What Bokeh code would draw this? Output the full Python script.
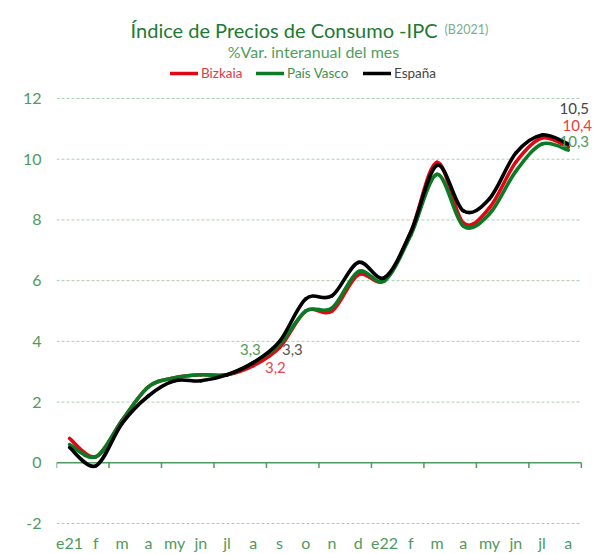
import numpy as np
from bokeh.plotting import figure
from bokeh.models import Range1d, FixedTicker, Label, Legend, LegendItem
from bokeh.embed import file_html
from bokeh.resources import INLINE
from bokeh.core.properties import value

# ---------------- data ----------------
months = ["e21", "f", "m", "a", "my", "jn", "jl", "a", "s", "o", "n", "d",
          "e22", "f", "m", "a", "my", "jn", "jl", "a"]
bizkaia = [0.8, 0.2, 1.4, 2.5, 2.8, 2.9, 2.9, 3.2, 3.8, 5.0, 5.0, 6.2,
           6.0, 7.6, 9.9, 7.9, 8.4, 9.9, 10.7, 10.4]
pais_vasco = [0.6, 0.2, 1.4, 2.5, 2.8, 2.9, 2.9, 3.3, 3.9, 5.0, 5.1, 6.3,
              6.0, 7.5, 9.5, 7.8, 8.2, 9.6, 10.5, 10.3]
espana = [0.5, -0.1, 1.3, 2.2, 2.7, 2.7, 2.9, 3.3, 4.0, 5.4, 5.5, 6.6,
          6.1, 7.6, 9.8, 8.3, 8.7, 10.2, 10.8, 10.5]
y_ticks = [-2, 0, 2, 4, 6, 8, 10, 12]
series_names = ["Bizkaia", "País Vasco", "España"]

# ---------------- style ----------------
FONT = "Lato"
RED = "#e30613"
GREEN = "#0b7a24"
BLACK = "#000000"
AXIS_GREEN = "#4f9a5e"
GRID = "#a9cfb0"

x_idx = list(range(len(months)))

p = figure(width=595, height=554, output_backend="svg", toolbar_location=None,
           x_range=Range1d(-0.5, 20.0), y_range=Range1d(-2.296, 15.228),
           min_border_left=56, min_border_right=1, min_border_top=0,
           min_border_bottom=19)
p.outline_line_color = None
p.xgrid.visible = False
p.ygrid.visible = False
p.background_fill_color = "white"
p.border_fill_color = "white"

# axes
p.yaxis.ticker = FixedTicker(ticks=y_ticks)
p.yaxis.major_label_overrides = {t: str(t) for t in y_ticks}
p.yaxis.axis_line_color = None
p.yaxis.major_tick_line_color = None
p.yaxis.minor_tick_line_color = None
p.yaxis.major_tick_out = 0
p.yaxis.major_tick_in = 0
p.yaxis.minor_tick_out = 0
p.yaxis.major_label_text_color = AXIS_GREEN
p.yaxis.major_label_text_font = FONT
p.yaxis.major_label_text_font_size = "16px"
p.yaxis.major_label_standoff = 15

p.xaxis.ticker = FixedTicker(ticks=x_idx)
p.xaxis.major_label_overrides = {i: m for i, m in enumerate(months)}
p.xaxis.axis_line_color = None
p.xaxis.major_tick_line_color = None
p.xaxis.minor_tick_line_color = None
p.xaxis.major_tick_out = 0
p.xaxis.major_tick_in = 0
p.xaxis.minor_tick_out = 0
p.xaxis.major_label_text_color = AXIS_GREEN
p.xaxis.major_label_text_font = FONT
p.xaxis.major_label_text_font_size = "16px"
p.xaxis.major_label_standoff = 0

# gridlines (dashed) except zero line
x_lo, x_hi = -0.5, len(months) - 0.5
grid_y = [t for t in y_ticks if t != 0]
p.segment(x0=[x_lo] * len(grid_y), y0=grid_y, x1=[x_hi] * len(grid_y), y1=grid_y,
          line_color=GRID, line_width=1, line_dash="3 2")

# zero axis line with tick marks every two categories
p.segment(x0=[x_lo], y0=[0], x1=[x_hi], y1=[0], line_color=AXIS_GREEN, line_width=1.5)
tick_x = [x_lo + 2 * k for k in range(len(months) // 2 + 1)]
p.segment(x0=tick_x, y0=[0] * len(tick_x), x1=tick_x, y1=[-0.17] * len(tick_x),
          line_color=AXIS_GREEN, line_width=1.5)


def smooth_bezier(xs, ys):
    xs = np.asarray(xs, float)
    ys = np.asarray(ys, float)
    n = len(xs)
    x0, y0, x1, y1, cx0, cy0, cx1, cy1 = ([] for _ in range(8))
    for i in range(n - 1):
        pm = max(i - 1, 0)
        pp = min(i + 2, n - 1)
        x0.append(xs[i]); y0.append(ys[i])
        x1.append(xs[i + 1]); y1.append(ys[i + 1])
        cx0.append(xs[i] + (xs[i + 1] - xs[pm]) / 6.0)
        cy0.append(ys[i] + (ys[i + 1] - ys[pm]) / 6.0)
        cx1.append(xs[i + 1] - (xs[pp] - xs[i]) / 6.0)
        cy1.append(ys[i + 1] - (ys[pp] - ys[i]) / 6.0)
    return dict(x0=x0, y0=y0, x1=x1, y1=y1, cx0=cx0, cy0=cy0, cx1=cx1, cy1=cy1)


renderers = []
for vals, col in [(bizkaia, RED), (pais_vasco, GREEN), (espana, BLACK)]:
    r = p.bezier(source=smooth_bezier(x_idx, vals), x0="x0", y0="y0", x1="x1", y1="y1",
                 cx0="cx0", cy0="cy0", cx1="cx1", cy1="cy1",
                 line_color=col, line_width=3.6, line_cap="round")
    renderers.append(r)


def fmt(v):
    return f"{v:.1f}".replace(".", ",")


# data labels
aug21 = 7
last = len(months) - 1
labels = [
    (aug21, pais_vasco[aug21], "#4f9a5e", -3, -13),
    (aug21, espana[aug21], "#555555", 39, -13),
    (aug21, bizkaia[aug21], "#e8464e", 22, 2),
    (last, espana[last], "#444444", 6, -36),
    (last, bizkaia[last], "#ee3a3a", 9, -22),
    (last, pais_vasco[last], "#4f9a5e", 6, -9),
]
for xi, yv, col, dx, dy in labels:
    p.text(x=[xi], y=[yv], text=[fmt(yv)], x_offset=dx, y_offset=dy,
           text_align="center", text_baseline="middle", text_color=col,
           text_font=value(FONT), text_font_size="15px")

# titles
p.add_layout(Label(x=381, y=503, x_units="screen", y_units="screen",
                   text="Índice de Precios de Consumo -IPC", text_align="right",
                   text_baseline="alphabetic", text_font=FONT, text_font_size="20px",
                   text_color="#1b7a30"))
p.add_layout(Label(x=388, y=503, x_units="screen", y_units="screen",
                   text="(B2021)", text_align="left", text_baseline="alphabetic",
                   text_font=FONT, text_font_size="12.5px", text_color="#7aae88"))
p.add_layout(Label(x=257, y=481, x_units="screen", y_units="screen",
                   text="%Var. interanual del mes", text_align="center",
                   text_baseline="alphabetic", text_font=FONT, text_font_size="16px",
                   text_color="#4f9e5f"))

# legends (one per item so each label gets its own colour)
leg_cols = ["#e23a44", "#3f8f4f", "#444444"]
leg_x = [114, 200, 307]
for name, r, tc, lx in zip(series_names, renderers, leg_cols, leg_x):
    lg = Legend(items=[LegendItem(label=name, renderers=[r])], location=(lx, 451),
                orientation="horizontal", padding=0, margin=0, spacing=0,
                glyph_width=28, glyph_height=16, label_standoff=3,
                label_text_font=FONT, label_text_font_size="13.5px",
                label_text_color=tc, label_height=16,
                border_line_color=None, background_fill_alpha=0)
    p.add_layout(lg, "center")

open("out.html", "w").write(file_html(p, INLINE))
